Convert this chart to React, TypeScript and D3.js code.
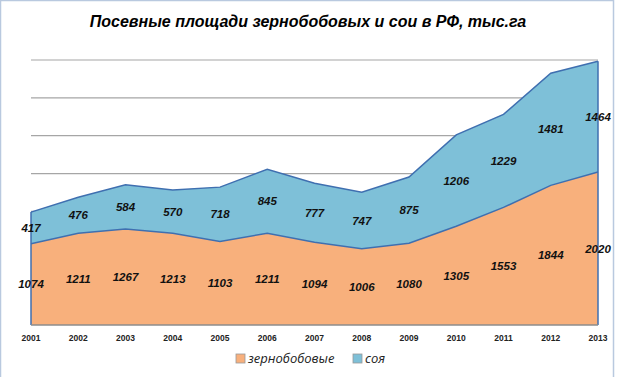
import React from "react";
import * as d3 from "d3";

const years = ["2001","2002","2003","2004","2005","2006","2007","2008","2009","2010","2011","2012","2013"];
const legumes = [1074,1211,1267,1213,1103,1211,1094,1006,1080,1305,1553,1844,2020];
const soy = [417,476,584,570,718,845,777,747,875,1206,1229,1481,1464];
const seriesNames = ["зернобобовые","соя"];
const gridTicks = [0,500,1000,1500,2000,2500,3000,3500];
const title = "Посевные площади зернобобовых и сои в РФ, тыс.га";

const W = 618, H = 377;
const ORANGE = "#F8B07C";
const BLUE = "#7EC0D8";
const LINE = "#3F6FB0";

export default function App() {
  const x = d3.scalePoint<string>().domain(years).range([31, 598]);
  const y = d3.scaleLinear().domain([0, 3500]).range([325, 60]);
  const rows = years.map((yr, i) => ({ yr, a: legumes[i], b: soy[i] }));
  const areaA = d3.area<any>().x(d => x(d.yr)!).y0(y(0)).y1(d => y(d.a));
  const areaB = d3.area<any>().x(d => x(d.yr)!).y0(d => y(d.a)).y1(d => y(d.a + d.b));
  const lineA = d3.line<any>().x(d => x(d.yr)!).y(d => y(d.a));
  const lineB = d3.line<any>().x(d => x(d.yr)!).y(d => y(d.a + d.b));
  const x0 = x(years[0])!, x1 = x(years[years.length - 1])!;
  return (
    <svg width={W} height={H} style={{ position: "absolute", left: 0, top: 0, background: "#fff" }}>
      <rect x={0.5} y={0.5} width={613} height={H + 5} fill="#fff" stroke="#B9C9DF" strokeWidth={1.5} />
      <text x={308} y={27} textAnchor="middle" fontFamily="Liberation Sans, Arial, sans-serif" fontWeight="bold" fontStyle="italic" fontSize={16} fill="#000">{title}</text>
      {gridTicks.slice(1).map(t => (
        <line key={t} x1={x0} x2={x1} y1={y(t)} y2={y(t)} stroke="#A6A6A6" strokeWidth={1.2} />
      ))}
      <path d={areaA(rows)!} fill={ORANGE} />
      <path d={areaB(rows)!} fill={BLUE} />
      <path d={lineB(rows)!} fill="none" stroke={LINE} strokeWidth={1.5} />
      <path d={lineA(rows)!} fill="none" stroke={LINE} strokeWidth={1.5} />
      <line x1={x0} x2={x0} y1={y(0)} y2={y(rows[0].a + rows[0].b)} stroke={LINE} strokeWidth={1.5} />
      <line x1={x1} x2={x1} y1={y(0)} y2={y(rows[12].a + rows[12].b)} stroke={LINE} strokeWidth={1.5} />
      <line x1={x0} x2={x1} y1={y(0)} y2={y(0)} stroke="#8C8C8C" strokeWidth={1.5} />
      {rows.map(d => (
        <g key={d.yr} fontFamily="Liberation Sans, Arial, sans-serif" fontWeight="bold" fontStyle="italic" fontSize={11.5} fill="#111" textAnchor="middle">
          <text x={x(d.yr)} y={(y(0) + y(d.a)) / 2 + 4}>{d.a}</text>
          <text x={x(d.yr)} y={(y(d.a) + y(d.a + d.b)) / 2 + 4}>{d.b}</text>
        </g>
      ))}
      {years.map(yr => (
        <text key={yr} x={x(yr)} y={341} textAnchor="middle" fontFamily="Liberation Sans, Arial, sans-serif" fontWeight="bold" fontSize={8.5} fill="#222">{yr}</text>
      ))}
      <g fontFamily="Open Sans, DejaVu Sans, sans-serif" fontStyle="italic" fontSize={13} fill="#222">
        <rect x={236} y={354} width={9} height={9} fill={ORANGE} stroke="#999" strokeWidth={0.8} />
        <text x={248} y={363}>{seriesNames[0]}</text>
        <rect x={353} y={354} width={9} height={9} fill={BLUE} stroke="#999" strokeWidth={0.8} />
        <text x={365} y={363}>{seriesNames[1]}</text>
      </g>
    </svg>
  );
}
